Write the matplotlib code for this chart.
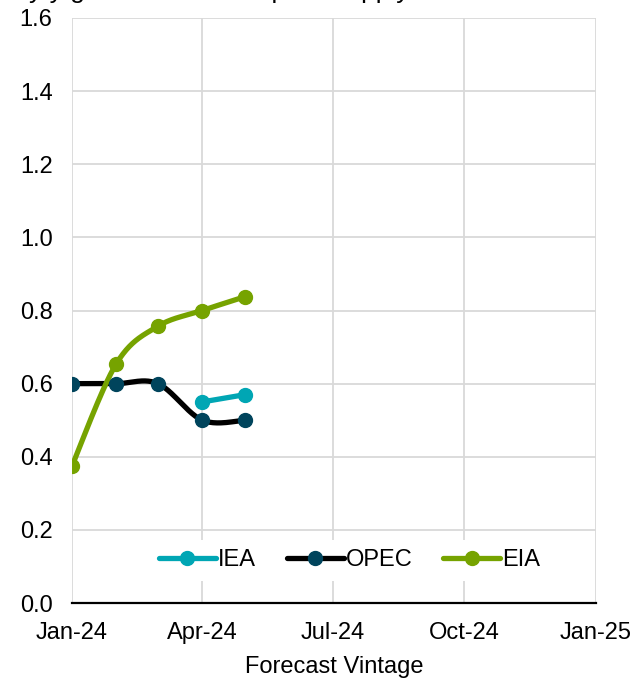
import numpy as np
import matplotlib
matplotlib.use("Agg")
import matplotlib.pyplot as plt
import matplotlib.dates as mdates
from datetime import date

plt.rcParams['font.family'] = ['Liberation Sans', 'DejaVu Sans']

# forecast vintages (monthly) and the y/y growth each agency reported
iea_dates = [date(2024, 4, 1), date(2024, 5, 1)]
iea_vals = [0.55, 0.57]
opec_dates = [date(2024, 1, 1), date(2024, 2, 1), date(2024, 3, 1), date(2024, 4, 1), date(2024, 5, 1)]
opec_vals = [0.60, 0.60, 0.60, 0.50, 0.50]
eia_dates = [date(2024, 1, 1), date(2024, 2, 1), date(2024, 3, 1), date(2024, 4, 1), date(2024, 5, 1)]
eia_vals = [0.375, 0.655, 0.757, 0.80, 0.838]

tick_dates = [date(2024, 1, 1), date(2024, 4, 1), date(2024, 7, 1), date(2024, 10, 1), date(2025, 1, 1)]
y_ticks = [0.0, 0.2, 0.4, 0.6, 0.8, 1.0, 1.2, 1.4, 1.6]

IEA_C = '#00A6B4'
OPEC_LINE = '#000000'
OPEC_MARK = '#00445C'
EIA_C = '#76A300'
GRID_C = '#D9D9D9'
FS = 17


def smooth(xs, ys, n=40):
    # excel style smoothed line: bezier segments through the points
    x = np.asarray(xs, dtype=float)
    y = np.asarray(ys, dtype=float)
    if len(x) < 3:
        return x, y
    px = np.concatenate([[x[0]], x, [x[-1]]])
    py = np.concatenate([[y[0]], y, [y[-1]]])
    outx, outy = [], []
    t = np.linspace(0, 1, n)
    for i in range(1, len(px) - 2):
        p0 = np.array([px[i], py[i]])
        p3 = np.array([px[i + 1], py[i + 1]])
        p1 = p0 + (np.array([px[i + 1], py[i + 1]]) - np.array([px[i - 1], py[i - 1]])) / 6
        p2 = p3 - (np.array([px[i + 2], py[i + 2]]) - np.array([px[i], py[i]])) / 6
        bx = (1 - t) ** 3 * p0[0] + 3 * (1 - t) ** 2 * t * p1[0] + 3 * (1 - t) * t ** 2 * p2[0] + t ** 3 * p3[0]
        by = (1 - t) ** 3 * p0[1] + 3 * (1 - t) ** 2 * t * p1[1] + 3 * (1 - t) * t ** 2 * p2[1] + t ** 3 * p3[1]
        outx.extend(bx)
        outy.extend(by)
    return np.array(outx), np.array(outy)


fig = plt.figure(figsize=(6.35, 6.79), dpi=100)
ax = fig.add_axes([0.1134, 0.1119, 0.8252, 0.8616])

series = [
    ('IEA', iea_dates, iea_vals, IEA_C, IEA_C),
    ('OPEC', opec_dates, opec_vals, OPEC_LINE, OPEC_MARK),
    ('EIA', eia_dates, eia_vals, EIA_C, EIA_C),
]
for name, ds, vs, lc, mc in series:
    xn = mdates.date2num(ds)
    sx, sy = smooth(xn, vs)
    ax.plot(sx, sy, color=lc, lw=3.8, solid_capstyle='round', zorder=3)
    ax.plot(xn, vs, 'o', color=mc, ms=10, zorder=4)
    # legend proxy
    ax.plot([], [], color=lc, lw=3.8, marker='o', ms=10, mfc=mc, mec=mc,
            solid_capstyle='round', label=name)

ax.set_xlim(mdates.date2num(tick_dates[0]), mdates.date2num(tick_dates[-1]))
ax.set_ylim(0, 1.6)
ax.set_xticks(mdates.date2num(tick_dates))
ax.xaxis.set_major_formatter(mdates.DateFormatter('%b-%y'))
ax.set_yticks(y_ticks)
ax.set_yticklabels([f'{v:.1f}' for v in y_ticks])
ax.tick_params(axis='both', length=0, labelsize=FS, colors='#000000')
ax.tick_params(axis='x', pad=14)
ax.tick_params(axis='y', pad=14)

ax.grid(True, color=GRID_C, lw=1.3)
ax.set_axisbelow(True)
for s in ['left', 'right', 'top']:
    ax.spines[s].set_visible(False)
ax.spines['bottom'].set_color('#000000')
ax.spines['bottom'].set_linewidth(1.6)
ax.spines['bottom'].set_zorder(5)

ax.set_xlabel('Forecast Vintage', fontsize=FS, labelpad=8)

leg = ax.legend(loc='center', bbox_to_anchor=(0.53, 0.073), ncol=3, fontsize=FS,
                frameon=True, fancybox=False, handlelength=2.4, handletextpad=0.1,
                columnspacing=1.3, borderpad=0.4)
leg.get_frame().set_facecolor('white')
leg.get_frame().set_edgecolor('none')
leg.get_frame().set_alpha(1)

# chart title, mostly cut off by the top edge in the source image
fig.text(0.045, 1.003, 'y/y growth in 2024 liquids supply',
         fontsize=19, va='baseline', ha='left')

fig.savefig('out.png', dpi=100)
